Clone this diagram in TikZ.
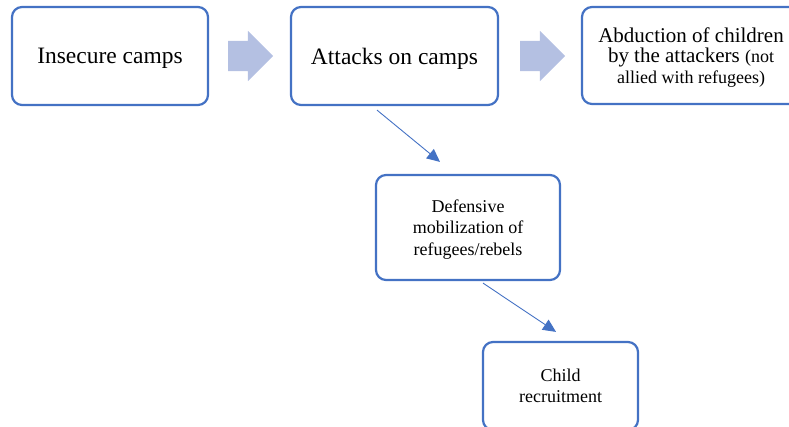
\documentclass[tikz,border=0pt]{standalone}
\usepackage{fontspec}
\setmainfont{Liberation Serif}
\usepackage{tikz}
\usetikzlibrary{shapes.arrows, arrows.meta}
\usepackage{xcolor}
\definecolor{boxblue}{RGB}{68,114,196}
\definecolor{arrowfill}{RGB}{180,192,226}

\begin{document}
\begin{tikzpicture}[x=1pt,y=-1pt]
					\tikzstyle{box} = [rectangle,rounded corners=10pt,fill=white,draw=boxblue,line width=2.2pt,align=center,inner sep=2pt,text depth=0pt]
					\tikzstyle{bigarrow} = [single arrow,fill=arrowfill,draw=none,inner xsep=0pt,inner ysep=15pt,single arrow head extend=10pt,minimum height=45pt]
					\tikzstyle{edge} = [draw=boxblue,line width=0.9pt,-{Triangle[length=13pt,width=12pt]}]
					\useasboundingbox (0,0) rectangle (789,427);
					\clip (0,0) rectangle (789,427);
					\node[box,minimum width=196pt,minimum height=98pt,font=\fontsize{23.5}{26}\selectfont] (n1) at (110,56) {Insecure camps};
					\node[box,minimum width=207pt,minimum height=98pt,font=\fontsize{23.5}{26}\selectfont] (n2) at (394.5,56) {Attacks on camps};
					\node[box,minimum width=218pt,minimum height=97pt,font=\fontsize{21}{20.5}\selectfont] (n3) at (691,55.5) {Abduction of children\\by the attackers {\fontsize{18}{20.5}\selectfont (not}\\{\fontsize{18}{20.5}\selectfont allied with refugees)}};
					\node[box,minimum width=184pt,minimum height=105pt,font=\fontsize{18}{21.5}\selectfont] (n4) at (468,227.5) {Defensive\\mobilization of\\refugees/rebels};
					\node[box,minimum width=155pt,minimum height=88pt,font=\fontsize{18}{21}\selectfont] (n5) at (560.5,386) {Child\\recruitment};
					\node[bigarrow] (a1) at (243,56) {};
					\node[bigarrow] (a2) at (535,56) {};
					\draw[edge] ([xshift=-17.5pt,yshift=-4pt]n2.south)--([xshift=-28pt,yshift=12pt]n4.north);
					\draw[edge] ([xshift=15pt,yshift=-2pt]n4.south)--([xshift=-4.5pt,yshift=9pt]n5.north);
\end{tikzpicture}
\end{document}
